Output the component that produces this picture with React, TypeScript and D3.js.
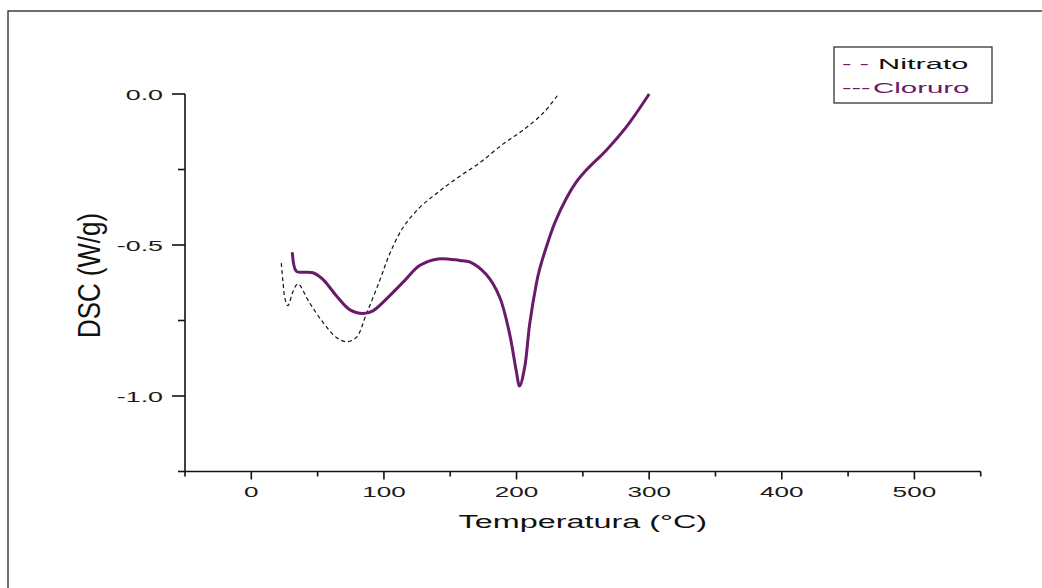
import React from "react";
import * as d3 from "d3";

const nitratoT = [22.6, 23.8, 25.5, 27.6, 31.4, 35.1, 44.0, 54.0, 64.1, 71.6, 79.2, 86.7, 96.8, 104.3, 114.3, 126.9, 139.5, 154.6, 172.2, 189.7, 204.8, 219.9, 231.2];
const nitratoV = [-0.56, -0.618, -0.68, -0.701, -0.655, -0.629, -0.692, -0.756, -0.806, -0.82, -0.806, -0.729, -0.618, -0.53, -0.443, -0.376, -0.33, -0.28, -0.228, -0.166, -0.12, -0.064, -0.003];

const cloruroT = [30.9, 33.9, 38.7, 46.5, 54.0, 64.1, 74.1, 84.2, 91.7, 101.8, 115.6, 126.9, 140.7, 157.1, 164.6, 177.2, 187.3, 194.8, 199.8, 202.3, 206.1, 209.9, 214.9, 217.4, 223.7, 229.0, 237.6, 245.0, 252.6, 267.7, 282.8, 300.0];
const cloruroV = [-0.524, -0.587, -0.59, -0.592, -0.614, -0.668, -0.714, -0.727, -0.718, -0.679, -0.618, -0.568, -0.546, -0.551, -0.556, -0.598, -0.673, -0.795, -0.917, -0.967, -0.906, -0.762, -0.629, -0.58, -0.49, -0.425, -0.345, -0.292, -0.252, -0.186, -0.109, 0.0];

const xMajor = [0, 100, 200, 300, 400, 500];
const xMinor = [-50, 50, 150, 250, 350, 450, 550];
const yMajor = [0, -0.5, -1.0];
const yMinor = [-0.25, -0.75, -1.25];
const yTickLabels = ["0.0", "-0.5", "-1.0"];

const xTitle = "Temperatura (°C)";
const yTitle = "DSC (W/g)";
const legendLabels = ["Nitrato", "Cloruro"];

const PURPLE = "#6a1a6a";
const FONT = "'Liberation Sans', Arial, sans-serif";

export default function App() {
  const x = d3.scaleLinear().domain([-50, 550]).range([185, 980.7]);
  const y = d3.scaleLinear().domain([0, -1.25]).range([94, 471.5]);

  const line = d3
    .line<[number, number]>()
    .x((d) => x(d[0]))
    .y((d) => y(d[1]))
    .curve(d3.curveCatmullRom.alpha(0.5));

  const nitrato = nitratoT.map((t, i) => [t, nitratoV[i]] as [number, number]);
  const cloruro = cloruroT.map((t, i) => [t, cloruroV[i]] as [number, number]);

  const axY = y(-1.25);
  const axX = x(-50);

  return (
    <svg
      width={1042}
      height={588}
      style={{ position: "absolute", left: 0, top: 0, display: "block", background: "#fff" }}
      fontFamily={FONT}
    >
      <rect x={0} y={0} width={1042} height={588} fill="#fff" />
      <rect x={8} y={11} width={1200} height={800} fill="none" stroke="#222" strokeWidth={1.3} />

      {/* axes */}
      <line x1={axX} x2={x(550)} y1={axY} y2={axY} stroke="#111" strokeWidth={1.6} />
      <line x1={axX} x2={axX} y1={y(0)} y2={axY} stroke="#111" strokeWidth={1.6} />

      {xMajor.map((v) => (
        <line key={"xM" + v} x1={x(v)} x2={x(v)} y1={axY} y2={axY + 8} stroke="#111" strokeWidth={1.6} />
      ))}
      {xMinor.map((v) => (
        <line key={"xm" + v} x1={x(v)} x2={x(v)} y1={axY} y2={axY + 5} stroke="#111" strokeWidth={1.6} />
      ))}
      {yMajor.map((v) => (
        <line key={"yM" + v} x1={axX - 13} x2={axX} y1={y(v)} y2={y(v)} stroke="#111" strokeWidth={1.6} />
      ))}
      {yMinor.map((v) => (
        <line key={"ym" + v} x1={axX - 7} x2={axX} y1={y(v)} y2={y(v)} stroke="#111" strokeWidth={1.6} />
      ))}

      {xMajor.map((v) => (
        <text
          key={"xl" + v}
          transform={`translate(${x(v)},${axY + 25}) scale(1.8,1)`}
          textAnchor="middle"
          fontSize={14.5}
          fill="#1a1a1a"
        >
          {String(v)}
        </text>
      ))}
      {yMajor.map((v, i) => (
        <text
          key={"yl" + v}
          transform={`translate(${axX - 22},${y(v) + 5.5}) scale(1.85,1)`}
          textAnchor="end"
          fontSize={14.5}
          fill="#1a1a1a"
        >
          {yTickLabels[i]}
        </text>
      ))}

      <text
        transform={`translate(${(x(-50) + x(550)) / 2},${528}) scale(1.85,1)`}
        textAnchor="middle"
        fontSize={17.5}
        fill="#111"
      >
        {xTitle}
      </text>
      <text
        transform={`translate(${100},${275.5}) rotate(-90) scale(1,1.75)`}
        textAnchor="middle"
        fontSize={18}
        fill="#111"
        textLength={125}
        lengthAdjust="spacingAndGlyphs"
      >
        {yTitle}
      </text>

      {/* curves */}
      <path d={line(nitrato) || ""} fill="none" stroke="#111" strokeWidth={1.2} strokeDasharray="4,3" />
      <path d={line(cloruro) || ""} fill="none" stroke={PURPLE} strokeWidth={3} strokeLinejoin="round" />

      {/* legend */}
      <rect x={834} y={47} width={158} height={56} fill="#fff" stroke="#333" strokeWidth={1.3} />
      <text transform={`translate(842,69) scale(1.9,1)`} fontSize={15} fill={PURPLE}>- -</text>
      <text transform={`translate(878,69) scale(1.98,1)`} fontSize={15.5} fill="#111">{legendLabels[0]}</text>
      <text transform={`translate(842,93) scale(1.9,1)`} fontSize={15} fill={PURPLE}>---</text>
      <text transform={`translate(873,93) scale(1.9,1)`} fontSize={15.5} fill={PURPLE}>{legendLabels[1]}</text>
    </svg>
  );
}
